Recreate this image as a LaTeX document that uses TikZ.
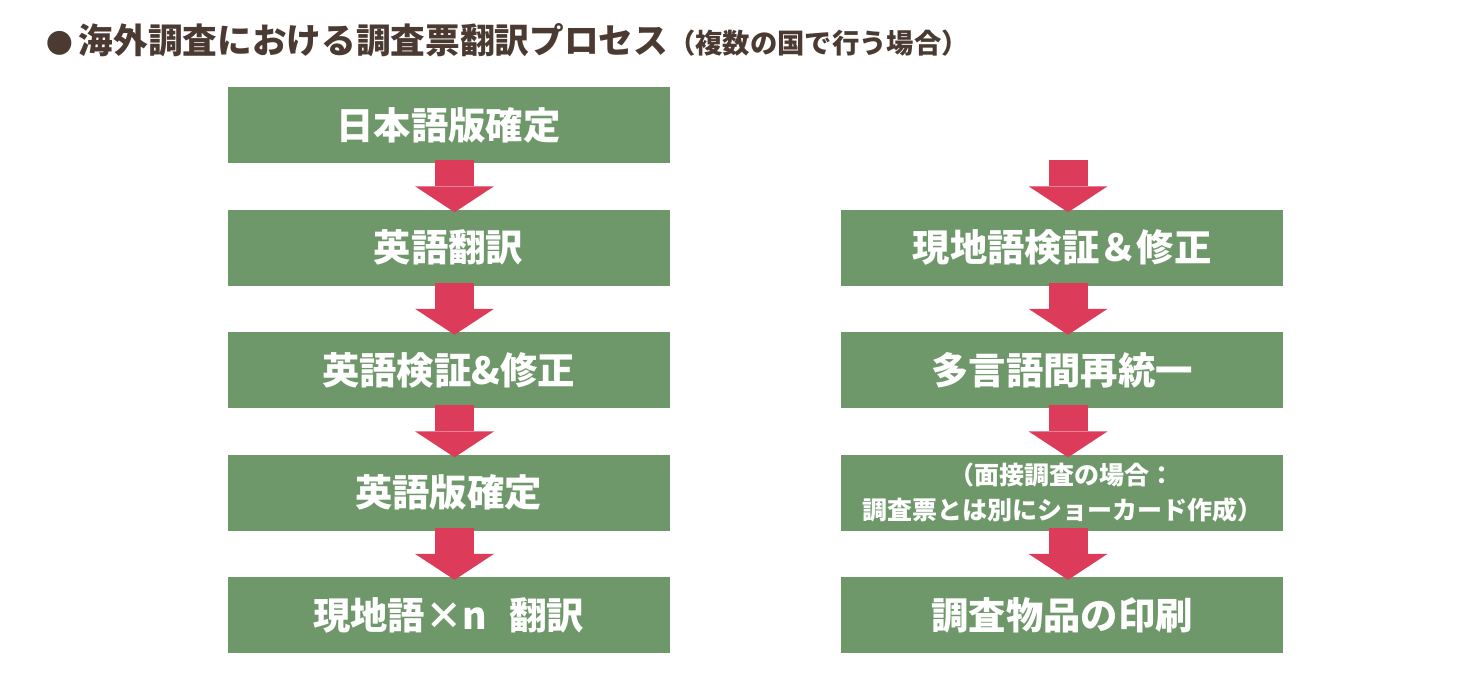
\documentclass[tikz,border=0pt]{standalone}
\usepackage{fontspec}
\newfontfamily\jpfont{Noto Sans CJK JP}
\usetikzlibrary{positioning,arrows.meta}
\definecolor{boxgreen}{RGB}{111,152,106}
\definecolor{arrowred}{RGB}{220,60,90}
\definecolor{titlebrown}{RGB}{75,58,50}

\begin{document}
\begin{tikzpicture}[font=\jpfont\bfseries,
  stage/.style={fill=boxgreen,text=white,minimum width=331.5pt,minimum height=57pt,inner sep=0pt,
    font=\jpfont\bfseries\fontsize{28}{30}\selectfont},
  flow/.style={arrowred,line width=29.25pt,-{Triangle[width=59.25pt,length=19.5pt,line width=0pt]}},
  node distance=34.5pt]
  \useasboundingbox (0,0) rectangle (1102.5pt,-504pt);
  \node[anchor=west,inner sep=0pt,text=titlebrown,font=\jpfont\bfseries\fontsize{26}{28}\selectfont](title)
    at (35pt,-30pt){{\fontsize{20}{24}\selectfont ●}\hspace{0.15em}海外調査における調査票翻訳プロセス{\fontsize{20.5}{24}\selectfont （複数の国で行う場合）}};
  % left column: Japanese -> English -> local languages
  \node[stage](l1) at (336.4pt,-93.75pt){日本語版確定};
  \foreach \i/\t [remember=\i as \p (initially 1)] in {2/英語翻訳,3/英語検証\&修正,4/英語版確定,5/現地語×n\hspace{0.6em}翻訳}
    \node[stage,below=of l\p](l\i){\t};
  % right column
  \node[stage,right=128.25pt of l2](r1){現地語検証＆修正};
  \node[stage,below=of r1](r2){多言語間再統一};
  \node[stage,below=of r2,align=center,font=\jpfont\bfseries\fontsize{18.75}{26.25}\selectfont](r3){（面接調査の場合：\\調査票とは別にショーカード作成）};
  \node[stage,below=of r3](r4){調査物品の印刷};
  % arrows
  \foreach \i [remember=\i as \p (initially 1)] in {2,...,5}
    \draw[flow]([xshift=4.5pt,yshift=2.25pt]l\p.south)--([xshift=4.5pt,yshift=-2.25pt]l\i.north);
  \coordinate (rin) at ([xshift=4.5pt,yshift=36.75pt]r1.north);
  \draw[flow](rin)--([xshift=4.5pt,yshift=-2.25pt]r1.north);
  \foreach \i [remember=\i as \p (initially 1)] in {2,...,4}
    \draw[flow]([xshift=4.5pt,yshift=2.25pt]r\p.south)--([xshift=4.5pt,yshift=-2.25pt]r\i.north);
\end{tikzpicture}
\end{document}
